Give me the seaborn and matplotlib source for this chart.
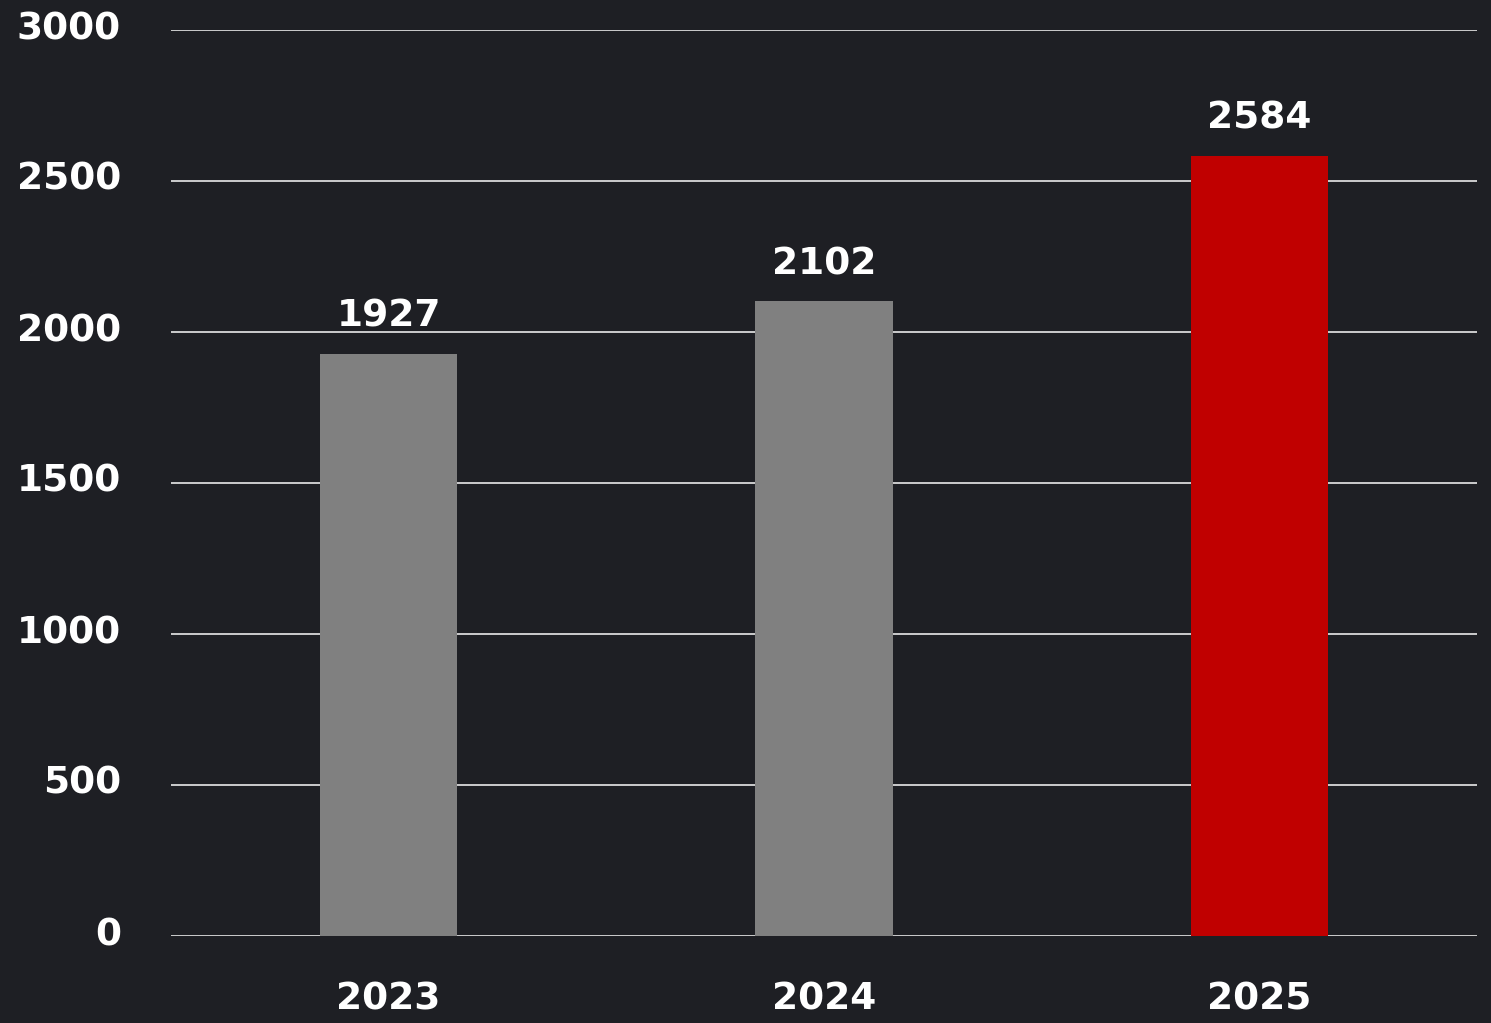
import matplotlib
matplotlib.use("Agg")
import matplotlib.pyplot as plt
import matplotlib.transforms as mtrans
import seaborn as sns
import pandas as pd

years = ["2023", "2024", "2025"]
values = [1927, 2102, 2584]
bar_colors = ["#808080", "#808080", "#c00000"]
yticks = [0, 500, 1000, 1500, 2000, 2500, 3000]

BG = "#1e1f24"
sns.set_theme(style="dark")
plt.rcParams["font.family"] = ["DejaVu Sans"]

fig = plt.figure(figsize=(14.91, 10.23), dpi=100, facecolor=BG)
ax = fig.add_axes([171/1491, 1 - 936/1023, (1477-171)/1491, (936-30)/1023])
ax.set_facecolor(BG)

df = pd.DataFrame({"year": years, "value": values})
sns.barplot(data=df, x="year", y="value", hue="year", palette=bar_colors,
            width=0.315, legend=False, ax=ax, saturation=1, zorder=3,
            linewidth=0, edgecolor="none")

ax.set_xlim(-0.5, 2.5)
ax.set_ylim(0, 3000)
ax.set_yticks(yticks)
ax.set_yticklabels([str(t) for t in yticks])
ax.yaxis.grid(True, color="#dadada", linewidth=1.3, zorder=0)
ax.xaxis.grid(False)
for s in ax.spines.values():
    s.set_visible(False)
ax.set_xlabel("")
ax.set_ylabel("")
ax.tick_params(axis="y", length=0, pad=36, labelsize=27, labelcolor="white")
ax.tick_params(axis="x", length=0, pad=33, labelsize=27, labelcolor="white")
shift = mtrans.ScaledTranslation(0, 5/100, fig.dpi_scale_trans)
for lbl in ax.get_yticklabels():
    lbl.set_fontweight("bold")
    lbl.set_transform(lbl.get_transform() + shift)
for lbl in ax.get_xticklabels():
    lbl.set_fontweight("bold")

for i, v in enumerate(values):
    ax.annotate(str(v), (i, v), xytext=(0, 19.5), textcoords="offset points",
                ha="center", va="baseline", color="white", fontsize=27,
                fontweight="bold")

fig.savefig("out.png", dpi=100, facecolor=BG)
